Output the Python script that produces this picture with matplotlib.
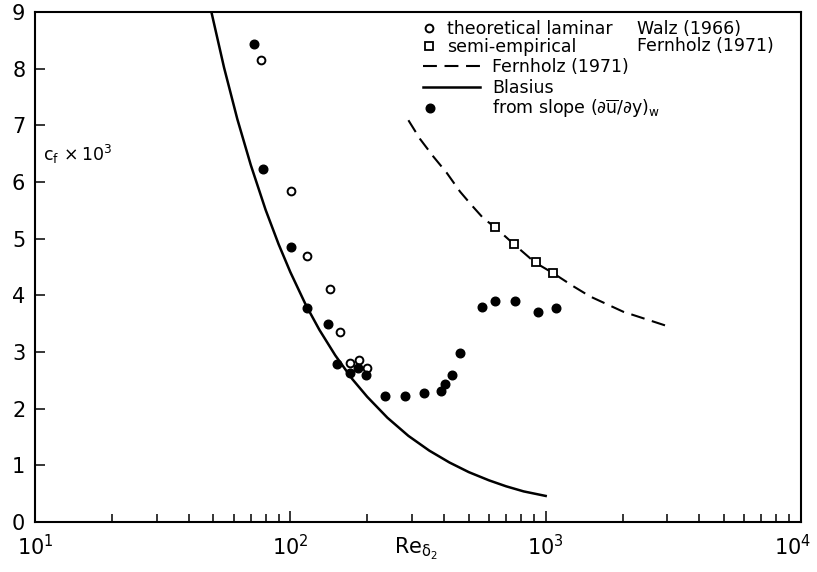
import matplotlib
matplotlib.use("Agg")
import matplotlib.pyplot as plt
from matplotlib.legend import Legend
from matplotlib.ticker import LogLocator, NullFormatter, FixedLocator
import matplotlib.transforms as mtransforms

plt.rcParams['font.family'] = ['DejaVu Sans']
plt.rcParams['mathtext.fontset'] = 'dejavusans'
plt.rcParams['mathtext.default'] = 'regular'
plt.rcParams['lines.scale_dashes'] = False

# theoretical laminar, Walz (1966)
re_laminar = [76.6, 101, 115.8, 142.6, 156, 172, 185, 199]
cf_laminar = [8.16, 5.84, 4.70, 4.11, 3.36, 2.81, 2.86, 2.71]

# semi-empirical, Fernholz (1971)
re_semi = [631, 750, 914, 1072]
cf_semi = [5.20, 4.91, 4.59, 4.39]

# from slope (du/dy)_w
re_slope = [72.1, 78, 101, 116, 141, 153, 171.6, 184.6, 198, 234.6, 281,
            333, 390, 404, 431, 461, 564, 636, 759, 933, 1096]
cf_slope = [8.43, 6.23, 4.85, 3.78, 3.49, 2.79, 2.63, 2.71, 2.59, 2.23, 2.23,
            2.28, 2.31, 2.44, 2.59, 2.98, 3.79, 3.90, 3.90, 3.70, 3.77]

# Fernholz (1971) curve
re_fern = [290, 322, 363, 410, 462, 513, 570, 634, 752, 908, 1071, 1283,
           1493, 2014, 2980]
cf_fern = [7.09, 6.76, 6.45, 6.16, 5.83, 5.59, 5.36, 5.20, 4.90, 4.58, 4.39,
           4.16, 3.98, 3.71, 3.46]

# Blasius curve
re_blas = [48, 55, 62, 70, 80, 90, 100, 115, 130, 150, 175, 200, 240, 290,
           350, 420, 500, 600, 700, 820, 1000]
cf_blas = [9.19, 8.02, 7.11, 6.30, 5.51, 4.90, 4.41, 3.83, 3.39, 2.94, 2.52,
           2.21, 1.84, 1.52, 1.26, 1.05, 0.88, 0.735, 0.63, 0.54, 0.46]

xtick_vals = [10, 100, 1000, 10000]
xtick_text = [r'$10^{1}$', r'$10^{2}$', r'$10^{3}$', r'$10^{4}$']

fig = plt.figure(figsize=(8.17, 5.72), dpi=100)
ax = fig.add_axes([35/817, 50/572, 766/817, 510/572])

blas, = ax.plot(re_blas, cf_blas, color='black', lw=1.8)
fern, = ax.plot(re_fern, cf_fern, color='black', lw=1.5, dashes=(10, 5.5))
lam, = ax.plot(re_laminar, cf_laminar, ls='none', marker='o', ms=5.6,
               mfc='white', mec='black', mew=1.4)
semi, = ax.plot(re_semi, cf_semi, ls='none', marker='s', ms=5.3,
                mfc='white', mec='black', mew=1.3)
slope, = ax.plot(re_slope, cf_slope, ls='none', marker='o', ms=6.2,
                 mfc='black', mec='black')

ax.set_xscale('log')
ax.set_xlim(10, 1e4)
ax.set_ylim(0, 9)

ax.xaxis.set_major_locator(FixedLocator(xtick_vals))
ax.set_xticklabels(xtick_text)
ax.xaxis.set_minor_locator(LogLocator(base=10, subs=range(2, 10)))
ax.xaxis.set_minor_formatter(NullFormatter())
ax.set_yticks(range(0, 10))

ax.tick_params(axis='both', which='both', direction='in', top=False,
               right=False, labelsize=15, width=1.1)
ax.tick_params(axis='x', which='major', length=7.7, pad=9)
ax.tick_params(axis='x', which='minor', length=5.5)
ax.tick_params(axis='y', which='major', length=7, pad=7)
for s in ax.spines.values():
    s.set_linewidth(1.5)

# last label sits against the right edge, nudge it in a little
last = ax.get_xticklabels()[-1]
last.set_transform(last.get_transform() +
                   mtransforms.ScaledTranslation(-6/72, 0, fig.dpi_scale_trans))

ax.set_xlabel(r'$Re_{\delta_2}$', fontsize=15)
ax.xaxis.set_label_coords(0.497, -0.028)
ax.text(0.0105, 0.72, r'$c_f\,\times10^3$', transform=ax.transAxes,
        fontsize=12.5, va='center', ha='left')


def add_key(handle, label, x0, yc, hl, pad):
    # one legend per row so each row sits where the figure has it
    fs = 12.5
    em = fs * 100 / 72
    leg = Legend(ax, [handle], [label], loc='center left',
                 bbox_to_anchor=((x0 - 35) / 766, (522 - yc) / 510),
                 frameon=False, fontsize=fs, borderpad=0,
                 borderaxespad=0, handlelength=hl / em,
                 handletextpad=pad / em, numpoints=1)
    ax.add_artist(leg)


add_key(lam, 'theoretical laminar', 420, 29, 17, 10)
add_key(semi, 'semi-empirical', 420, 47.5, 17, 10)
add_key(fern, 'Fernholz (1971)', 423, 67, 57, 12)
add_key(blas, 'Blasius', 423, 88, 57, 12)
add_key(slope, r'from slope $(\partial\overline{u}/\partial y)_w$', 421.5, 109, 17, 53)

ax.text((637 - 35) / 766, (522 - 28.5) / 510, 'Walz (1966)', transform=ax.transAxes,
        fontsize=12.5, va='center', ha='left')
ax.text((637 - 35) / 766, (522 - 46) / 510, 'Fernholz (1971)', transform=ax.transAxes,
        fontsize=12.5, va='center', ha='left')

fig.savefig('out.png', dpi=100)
